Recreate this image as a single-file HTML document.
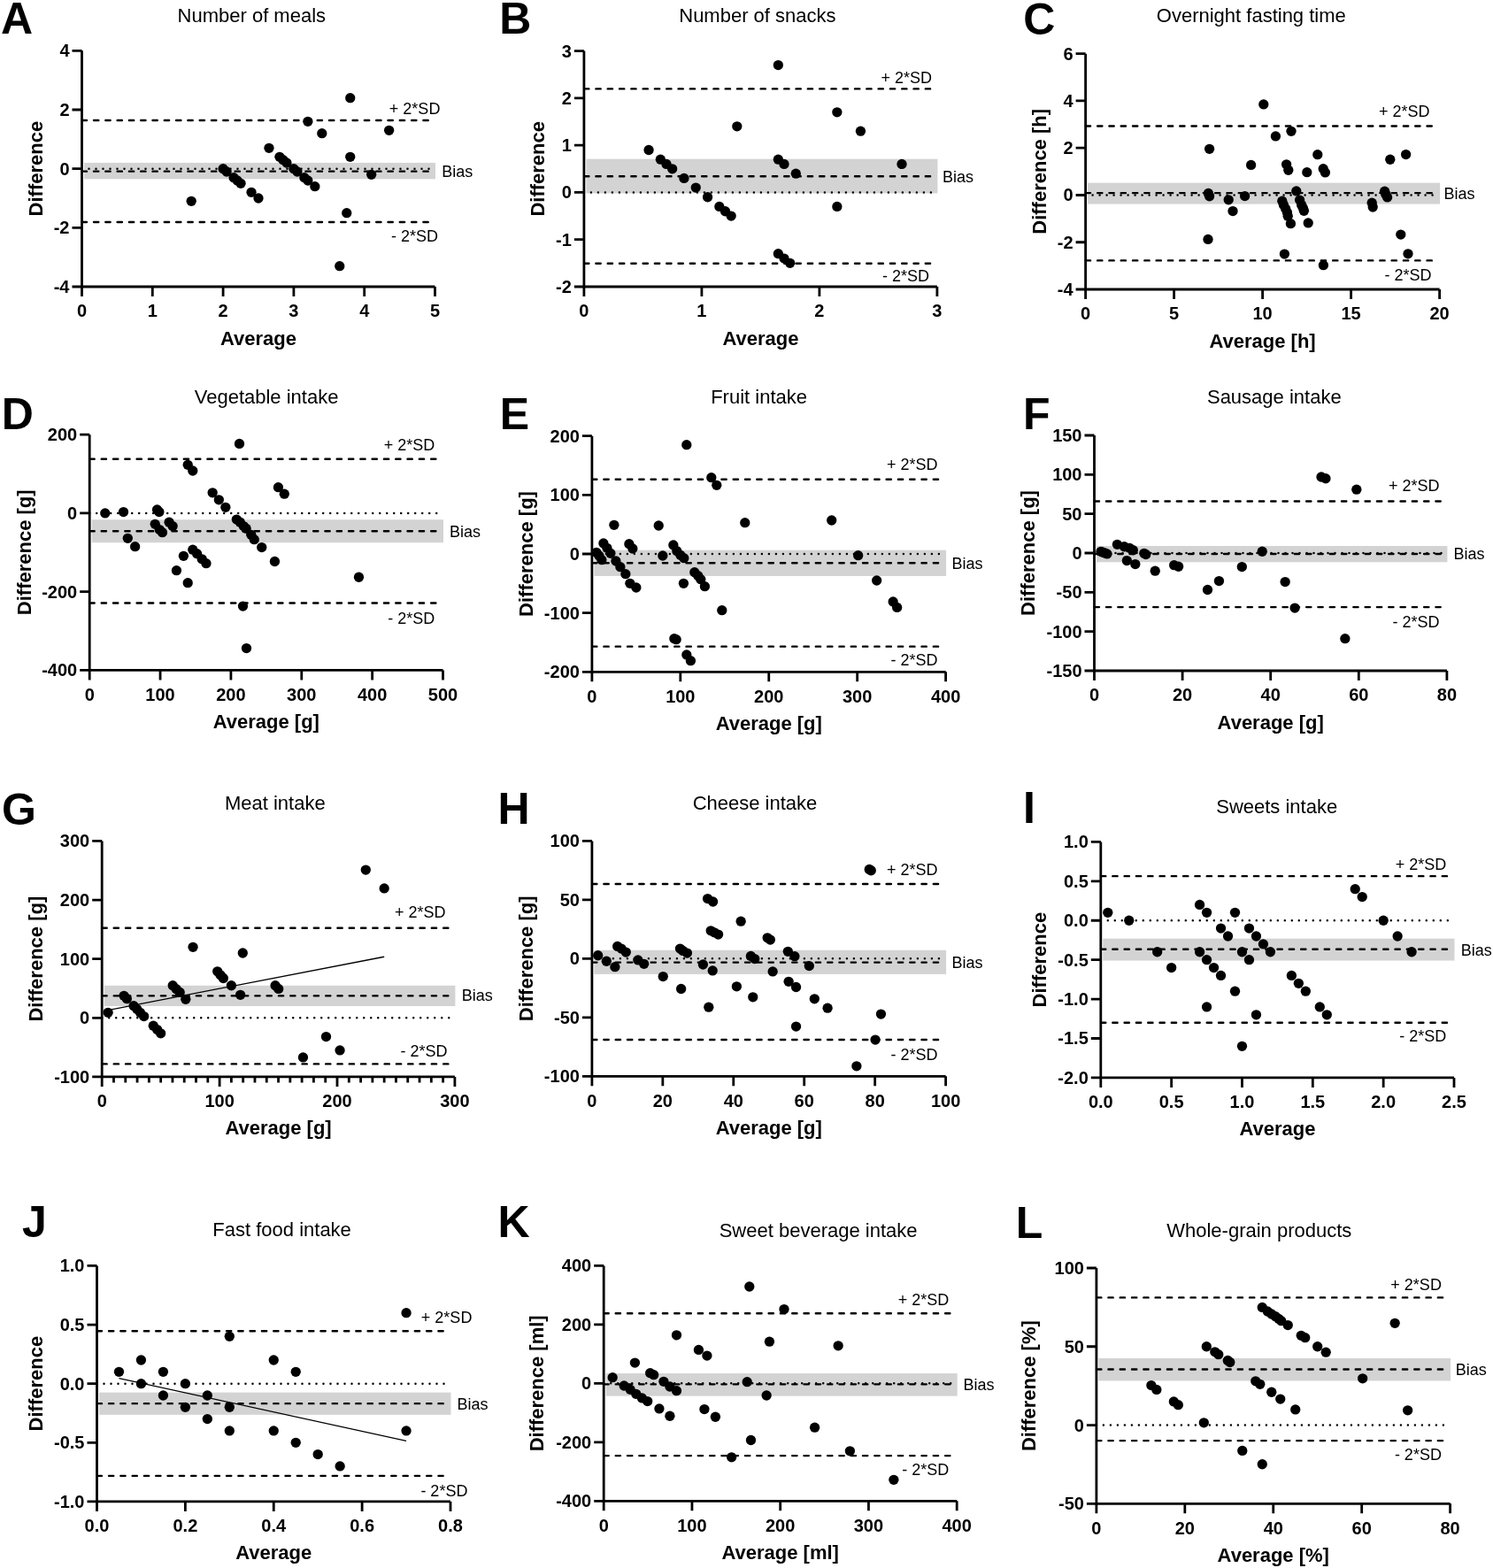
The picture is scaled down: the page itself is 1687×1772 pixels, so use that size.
<!DOCTYPE html>
<html><head><meta charset="utf-8"><title>Bland-Altman plots</title>
<style>
html,body{margin:0;padding:0;background:#fff;}
svg{display:block;}
text{font-family:"Liberation Sans", Arial, Helvetica, sans-serif;fill:#000;}
.tl{font-size:20px;font-weight:bold;}
.al{font-size:22px;font-weight:bold;}
.ll{font-size:18px;}
.ti{font-size:22px;}
.le{font-size:50px;font-weight:bold;}
.ax{fill:none;stroke:#000;stroke-width:2.8;}
.dash{stroke:#000;stroke-width:2.4;stroke-dasharray:5.3 8;stroke-linecap:round;stroke-dashoffset:-1.2;}
.dot{stroke:#000;stroke-width:2.5;stroke-dasharray:0 8;stroke-linecap:round;}
circle{fill:#000;}
</style></head>
<body>
<svg width="1687" height="1772" viewBox="0 0 1687 1772">
<rect width="1687" height="1772" fill="#fff"/>
<g><rect x="95" y="183.98" width="397" height="18.34" fill="#d3d3d3"/><line x1="92.5" y1="190.65" x2="485.5" y2="190.65" class="dot"/><line x1="91.5" y1="135.98" x2="485.5" y2="135.98" class="dash"/><line x1="91.5" y1="193.65" x2="485.5" y2="193.65" class="dash"/><line x1="91.5" y1="250.99" x2="485.5" y2="250.99" class="dash"/><circle cx="216.19" cy="227.32" r="5.65"/><circle cx="252.1" cy="190.65" r="5.65"/><circle cx="256.09" cy="193.98" r="5.65"/><circle cx="264.07" cy="200.65" r="5.65"/><circle cx="268.06" cy="203.99" r="5.65"/><circle cx="272.05" cy="207.32" r="5.65"/><circle cx="284.02" cy="217.32" r="5.65"/><circle cx="292" cy="223.99" r="5.65"/><circle cx="303.97" cy="167.31" r="5.65"/><circle cx="315.94" cy="177.31" r="5.65"/><circle cx="319.93" cy="180.65" r="5.65"/><circle cx="323.92" cy="183.98" r="5.65"/><circle cx="331.9" cy="190.65" r="5.65"/><circle cx="335.89" cy="193.98" r="5.65"/><circle cx="343.87" cy="200.65" r="5.65"/><circle cx="347.86" cy="203.99" r="5.65"/><circle cx="355.84" cy="210.65" r="5.65"/><circle cx="347.86" cy="137.31" r="5.65"/><circle cx="363.82" cy="150.65" r="5.65"/><circle cx="395.74" cy="110.64" r="5.65"/><circle cx="395.74" cy="177.31" r="5.65"/><circle cx="391.75" cy="240.66" r="5.65"/><circle cx="383.77" cy="300.66" r="5.65"/><circle cx="419.68" cy="197.32" r="5.65"/><circle cx="439.63" cy="147.31" r="5.65"/><path d="M92.5 57.3V324H491.5" class="ax"/><path d="M92.5 324H81.5M92.5 257.32H81.5M92.5 190.65H81.5M92.5 123.98H81.5M92.5 57.3H81.5M92.5 324V335M172.3 324V335M252.1 324V335M331.9 324V335M411.7 324V335M491.5 324V335" class="ax"/><text x="78.5" y="331" class="tl" text-anchor="end">-4</text><text x="78.5" y="264.32" class="tl" text-anchor="end">-2</text><text x="78.5" y="197.65" class="tl" text-anchor="end">0</text><text x="78.5" y="130.98" class="tl" text-anchor="end">2</text><text x="78.5" y="64.3" class="tl" text-anchor="end">4</text><text x="92.5" y="358.3" class="tl" text-anchor="middle">0</text><text x="172.3" y="358.3" class="tl" text-anchor="middle">1</text><text x="252.1" y="358.3" class="tl" text-anchor="middle">2</text><text x="331.9" y="358.3" class="tl" text-anchor="middle">3</text><text x="411.7" y="358.3" class="tl" text-anchor="middle">4</text><text x="491.5" y="358.3" class="tl" text-anchor="middle">5</text><text x="292" y="389.5" class="al" text-anchor="middle">Average</text><text transform="translate(48.2 190.65) rotate(-90)" class="al" text-anchor="middle">Difference</text><text x="497.4" y="129.3" class="ll" text-anchor="end">+ 2*SD</text><text x="499.3" y="200.4" class="ll">Bias</text><text x="495" y="272.5" class="ll" text-anchor="end">- 2*SD</text><text x="284.3" y="24.8" class="ti" text-anchor="middle">Number of meals</text><text x="0.9" y="38.2" class="le">A</text></g>
<g><rect x="662.4" y="179.66" width="397" height="38.79" fill="#d3d3d3"/><line x1="659.9" y1="217.44" x2="1052.9" y2="217.44" class="dot"/><line x1="658.9" y1="100.38" x2="1052.9" y2="100.38" class="dash"/><line x1="658.9" y1="199.22" x2="1052.9" y2="199.22" class="dash"/><line x1="658.9" y1="297.68" x2="1052.9" y2="297.68" class="dash"/><circle cx="733.05" cy="169.49" r="5.65"/><circle cx="746.35" cy="180.14" r="5.65"/><circle cx="753" cy="185.47" r="5.65"/><circle cx="759.65" cy="190.8" r="5.65"/><circle cx="772.95" cy="201.46" r="5.65"/><circle cx="786.25" cy="212.11" r="5.65"/><circle cx="799.55" cy="222.77" r="5.65"/><circle cx="812.85" cy="233.42" r="5.65"/><circle cx="819.5" cy="238.75" r="5.65"/><circle cx="826.15" cy="244.08" r="5.65"/><circle cx="832.8" cy="142.85" r="5.65"/><circle cx="879.35" cy="73.58" r="5.65"/><circle cx="879.35" cy="180.14" r="5.65"/><circle cx="886" cy="185.47" r="5.65"/><circle cx="899.3" cy="196.13" r="5.65"/><circle cx="879.35" cy="286.7" r="5.65"/><circle cx="886" cy="292.03" r="5.65"/><circle cx="892.65" cy="297.36" r="5.65"/><circle cx="945.85" cy="126.86" r="5.65"/><circle cx="945.85" cy="233.42" r="5.65"/><circle cx="972.45" cy="148.18" r="5.65"/><circle cx="1019" cy="185.47" r="5.65"/><path d="M659.9 57.6V324H1058.9" class="ax"/><path d="M659.9 324H648.9M659.9 270.72H648.9M659.9 217.44H648.9M659.9 164.16H648.9M659.9 110.88H648.9M659.9 57.6H648.9M659.9 324V335M792.9 324V335M925.9 324V335M1058.9 324V335" class="ax"/><text x="645.9" y="331" class="tl" text-anchor="end">-2</text><text x="645.9" y="277.72" class="tl" text-anchor="end">-1</text><text x="645.9" y="224.44" class="tl" text-anchor="end">0</text><text x="645.9" y="171.16" class="tl" text-anchor="end">1</text><text x="645.9" y="117.88" class="tl" text-anchor="end">2</text><text x="645.9" y="64.6" class="tl" text-anchor="end">3</text><text x="659.9" y="358.3" class="tl" text-anchor="middle">0</text><text x="792.9" y="358.3" class="tl" text-anchor="middle">1</text><text x="925.9" y="358.3" class="tl" text-anchor="middle">2</text><text x="1058.9" y="358.3" class="tl" text-anchor="middle">3</text><text x="859.4" y="389.5" class="al" text-anchor="middle">Average</text><text transform="translate(615.3 190.8) rotate(-90)" class="al" text-anchor="middle">Difference</text><text x="1053" y="93.5" class="ll" text-anchor="end">+ 2*SD</text><text x="1065" y="206" class="ll">Bias</text><text x="1050" y="318" class="ll" text-anchor="end">- 2*SD</text><text x="855.9" y="25" class="ti" text-anchor="middle">Number of snacks</text><text x="564.3" y="38" class="le">B</text></g>
<g><rect x="1229.1" y="206.63" width="398" height="23.97" fill="#d3d3d3"/><line x1="1226.6" y1="220.48" x2="1620.6" y2="220.48" class="dot"/><line x1="1225.6" y1="142.45" x2="1620.6" y2="142.45" class="dash"/><line x1="1225.6" y1="218.08" x2="1620.6" y2="218.08" class="dash"/><line x1="1225.6" y1="294.38" x2="1620.6" y2="294.38" class="dash"/><circle cx="1427.8" cy="117.95" r="5.65"/><circle cx="1441.4" cy="153.9" r="5.65"/><circle cx="1459" cy="148.31" r="5.65"/><circle cx="1366.6" cy="168.29" r="5.65"/><circle cx="1413.6" cy="186.39" r="5.65"/><circle cx="1453.6" cy="185.86" r="5.65"/><circle cx="1455.8" cy="192.25" r="5.65"/><circle cx="1476.8" cy="194.65" r="5.65"/><circle cx="1488.8" cy="174.68" r="5.65"/><circle cx="1495.2" cy="190.65" r="5.65"/><circle cx="1497.4" cy="194.92" r="5.65"/><circle cx="1570.8" cy="180.27" r="5.65"/><circle cx="1588.6" cy="174.54" r="5.65"/><circle cx="1365.4" cy="218.48" r="5.65"/><circle cx="1366.6" cy="221.81" r="5.65"/><circle cx="1388.2" cy="225.81" r="5.65"/><circle cx="1393" cy="238.59" r="5.65"/><circle cx="1406.6" cy="221.55" r="5.65"/><circle cx="1448.8" cy="227.14" r="5.65"/><circle cx="1450.4" cy="231.4" r="5.65"/><circle cx="1452.6" cy="235.66" r="5.65"/><circle cx="1454.4" cy="239.92" r="5.65"/><circle cx="1455.2" cy="244.18" r="5.65"/><circle cx="1458.4" cy="252.7" r="5.65"/><circle cx="1464.8" cy="215.95" r="5.65"/><circle cx="1468.6" cy="226.07" r="5.65"/><circle cx="1470.6" cy="231.4" r="5.65"/><circle cx="1472.4" cy="235.13" r="5.65"/><circle cx="1473.4" cy="238.32" r="5.65"/><circle cx="1478.2" cy="251.9" r="5.65"/><circle cx="1365" cy="270.41" r="5.65"/><circle cx="1451.4" cy="287.06" r="5.65"/><circle cx="1495.4" cy="299.7" r="5.65"/><circle cx="1582.8" cy="265.09" r="5.65"/><circle cx="1591" cy="286.79" r="5.65"/><circle cx="1550.2" cy="229.27" r="5.65"/><circle cx="1551.2" cy="234.06" r="5.65"/><circle cx="1564.6" cy="216.22" r="5.65"/><circle cx="1565.8" cy="219.41" r="5.65"/><circle cx="1567.6" cy="222.88" r="5.65"/><path d="M1226.6 60.7V327H1626.6" class="ax"/><path d="M1226.6 327H1215.6M1226.6 273.74H1215.6M1226.6 220.48H1215.6M1226.6 167.22H1215.6M1226.6 113.96H1215.6M1226.6 60.7H1215.6M1226.6 327V338M1326.6 327V338M1426.6 327V338M1526.6 327V338M1626.6 327V338" class="ax"/><text x="1212.6" y="334" class="tl" text-anchor="end">-4</text><text x="1212.6" y="280.74" class="tl" text-anchor="end">-2</text><text x="1212.6" y="227.48" class="tl" text-anchor="end">0</text><text x="1212.6" y="174.22" class="tl" text-anchor="end">2</text><text x="1212.6" y="120.96" class="tl" text-anchor="end">4</text><text x="1212.6" y="67.7" class="tl" text-anchor="end">6</text><text x="1226.6" y="361.3" class="tl" text-anchor="middle">0</text><text x="1326.6" y="361.3" class="tl" text-anchor="middle">5</text><text x="1426.6" y="361.3" class="tl" text-anchor="middle">10</text><text x="1526.6" y="361.3" class="tl" text-anchor="middle">15</text><text x="1626.6" y="361.3" class="tl" text-anchor="middle">20</text><text x="1426.6" y="392.5" class="al" text-anchor="middle">Average [h]</text><text transform="translate(1182 193.85) rotate(-90)" class="al" text-anchor="middle">Difference [h]</text><text x="1615.6" y="132.3" class="ll" text-anchor="end">+ 2*SD</text><text x="1631.6" y="225.3" class="ll">Bias</text><text x="1617.6" y="316.6" class="ll" text-anchor="end">- 2*SD</text><text x="1413.8" y="25" class="ti" text-anchor="middle">Overnight fasting time</text><text x="1156.3" y="39" class="le">C</text></g>
<g><rect x="103.7" y="587.25" width="397.3" height="25.95" fill="#d3d3d3"/><line x1="101.2" y1="579.93" x2="494.5" y2="579.93" class="dot"/><line x1="100.2" y1="518.71" x2="494.5" y2="518.71" class="dash"/><line x1="100.2" y1="600.21" x2="494.5" y2="600.21" class="dash"/><line x1="100.2" y1="681.53" x2="494.5" y2="681.53" class="dash"/><circle cx="118.77" cy="579.93" r="5.65"/><circle cx="139.53" cy="578.6" r="5.65"/><circle cx="144.32" cy="608.33" r="5.65"/><circle cx="152.63" cy="617.64" r="5.65"/><circle cx="177.55" cy="575.94" r="5.65"/><circle cx="179.86" cy="578.6" r="5.65"/><circle cx="175.23" cy="592.36" r="5.65"/><circle cx="180.26" cy="598.57" r="5.65"/><circle cx="183.46" cy="601.67" r="5.65"/><circle cx="191.12" cy="590.14" r="5.65"/><circle cx="195.12" cy="594.57" r="5.65"/><circle cx="207.41" cy="628.29" r="5.65"/><circle cx="199.43" cy="644.71" r="5.65"/><circle cx="212.21" cy="658.68" r="5.65"/><circle cx="212.21" cy="525.36" r="5.65"/><circle cx="217.8" cy="532.02" r="5.65"/><circle cx="217.8" cy="621.19" r="5.65"/><circle cx="222.59" cy="625.63" r="5.65"/><circle cx="228.18" cy="631.84" r="5.65"/><circle cx="232.97" cy="636.72" r="5.65"/><circle cx="240.16" cy="556.86" r="5.65"/><circle cx="247.34" cy="564.85" r="5.65"/><circle cx="254.85" cy="573.28" r="5.65"/><circle cx="270.5" cy="501.4" r="5.65"/><circle cx="267.31" cy="587.03" r="5.65"/><circle cx="271.3" cy="590.14" r="5.65"/><circle cx="275.29" cy="594.57" r="5.65"/><circle cx="278.09" cy="597.24" r="5.65"/><circle cx="283.76" cy="604.34" r="5.65"/><circle cx="287.27" cy="609.66" r="5.65"/><circle cx="295.74" cy="618.53" r="5.65"/><circle cx="310.43" cy="634.5" r="5.65"/><circle cx="314.43" cy="550.65" r="5.65"/><circle cx="321.29" cy="558.19" r="5.65"/><circle cx="274.5" cy="685.08" r="5.65"/><circle cx="278.49" cy="732.55" r="5.65"/><circle cx="405.47" cy="652.25" r="5.65"/><path d="M101.2 491.2V757.4H500.5" class="ax"/><path d="M101.2 757.4H90.2M101.2 668.67H90.2M101.2 579.93H90.2M101.2 491.2H90.2M101.2 757.4V768.4M181.06 757.4V768.4M260.92 757.4V768.4M340.78 757.4V768.4M420.64 757.4V768.4M500.5 757.4V768.4" class="ax"/><text x="87.2" y="764.4" class="tl" text-anchor="end">-400</text><text x="87.2" y="675.67" class="tl" text-anchor="end">-200</text><text x="87.2" y="586.93" class="tl" text-anchor="end">0</text><text x="87.2" y="498.2" class="tl" text-anchor="end">200</text><text x="101.2" y="791.7" class="tl" text-anchor="middle">0</text><text x="181.06" y="791.7" class="tl" text-anchor="middle">100</text><text x="260.92" y="791.7" class="tl" text-anchor="middle">200</text><text x="340.78" y="791.7" class="tl" text-anchor="middle">300</text><text x="420.64" y="791.7" class="tl" text-anchor="middle">400</text><text x="500.5" y="791.7" class="tl" text-anchor="middle">500</text><text x="300.85" y="822.9" class="al" text-anchor="middle">Average [g]</text><text transform="translate(34.7 624.3) rotate(-90)" class="al" text-anchor="middle">Difference [g]</text><text x="491.3" y="509.3" class="ll" text-anchor="end">+ 2*SD</text><text x="508" y="606.6" class="ll">Bias</text><text x="491.3" y="704.5" class="ll" text-anchor="end">- 2*SD</text><text x="301.1" y="455.9" class="ti" text-anchor="middle">Vegetable intake</text><text x="1.8" y="485" class="le">D</text></g>
<g><rect x="671.4" y="621.67" width="397.7" height="29.26" fill="#d3d3d3"/><line x1="668.9" y1="626" x2="1062.6" y2="626" class="dot"/><line x1="667.9" y1="541.69" x2="1062.6" y2="541.69" class="dash"/><line x1="667.9" y1="636.26" x2="1062.6" y2="636.26" class="dash"/><line x1="667.9" y1="730.64" x2="1062.6" y2="730.64" class="dash"/><circle cx="673.9" cy="624.33" r="5.65"/><circle cx="676.89" cy="628" r="5.65"/><circle cx="679.89" cy="632.66" r="5.65"/><circle cx="681.89" cy="614" r="5.65"/><circle cx="685.89" cy="619.33" r="5.65"/><circle cx="689.88" cy="625.33" r="5.65"/><circle cx="693.88" cy="593.34" r="5.65"/><circle cx="695.88" cy="634" r="5.65"/><circle cx="700.88" cy="640.66" r="5.65"/><circle cx="706.87" cy="648.66" r="5.65"/><circle cx="711.87" cy="659.32" r="5.65"/><circle cx="718.86" cy="663.99" r="5.65"/><circle cx="710.87" cy="614.67" r="5.65"/><circle cx="714.87" cy="620" r="5.65"/><circle cx="744.24" cy="594.01" r="5.65"/><circle cx="748.84" cy="628" r="5.65"/><circle cx="760.83" cy="616" r="5.65"/><circle cx="764.83" cy="622.67" r="5.65"/><circle cx="768.82" cy="627.33" r="5.65"/><circle cx="772.82" cy="630.67" r="5.65"/><circle cx="775.82" cy="502.7" r="5.65"/><circle cx="803.8" cy="539.69" r="5.65"/><circle cx="809.79" cy="548.29" r="5.65"/><circle cx="841.77" cy="590.68" r="5.65"/><circle cx="939.7" cy="588.01" r="5.65"/><circle cx="969.67" cy="627.67" r="5.65"/><circle cx="990.66" cy="655.99" r="5.65"/><circle cx="1009.14" cy="679.99" r="5.65"/><circle cx="1013.64" cy="686.45" r="5.65"/><circle cx="815.79" cy="689.72" r="5.65"/><circle cx="761.83" cy="721.64" r="5.65"/><circle cx="764.13" cy="722.64" r="5.65"/><circle cx="775.82" cy="739.97" r="5.65"/><circle cx="780.42" cy="746.64" r="5.65"/><circle cx="772.42" cy="659.32" r="5.65"/><circle cx="784.81" cy="646.66" r="5.65"/><circle cx="788.81" cy="650.66" r="5.65"/><circle cx="791.81" cy="654.66" r="5.65"/><circle cx="796.4" cy="662.66" r="5.65"/><path d="M668.9 492.7V759.3H1068.6" class="ax"/><path d="M668.9 759.3H657.9M668.9 692.65H657.9M668.9 626H657.9M668.9 559.35H657.9M668.9 492.7H657.9M668.9 759.3V770.3M768.82 759.3V770.3M868.75 759.3V770.3M968.67 759.3V770.3M1068.6 759.3V770.3" class="ax"/><text x="654.9" y="766.3" class="tl" text-anchor="end">-200</text><text x="654.9" y="699.65" class="tl" text-anchor="end">-100</text><text x="654.9" y="633" class="tl" text-anchor="end">0</text><text x="654.9" y="566.35" class="tl" text-anchor="end">100</text><text x="654.9" y="499.7" class="tl" text-anchor="end">200</text><text x="668.9" y="793.6" class="tl" text-anchor="middle">0</text><text x="768.82" y="793.6" class="tl" text-anchor="middle">100</text><text x="868.75" y="793.6" class="tl" text-anchor="middle">200</text><text x="968.67" y="793.6" class="tl" text-anchor="middle">300</text><text x="1068.6" y="793.6" class="tl" text-anchor="middle">400</text><text x="868.75" y="824.8" class="al" text-anchor="middle">Average [g]</text><text transform="translate(602.3 626) rotate(-90)" class="al" text-anchor="middle">Difference [g]</text><text x="1059.6" y="530.9" class="ll" text-anchor="end">+ 2*SD</text><text x="1075.5" y="643.1" class="ll">Bias</text><text x="1059.6" y="751.6" class="ll" text-anchor="end">- 2*SD</text><text x="857.6" y="456.2" class="ti" text-anchor="middle">Fruit intake</text><text x="564.8" y="484.6" class="le">E</text></g>
<g><rect x="1239" y="617.02" width="396.4" height="18.27" fill="#d3d3d3"/><line x1="1236.5" y1="625" x2="1628.9" y2="625" class="dot"/><line x1="1235.5" y1="566.57" x2="1628.9" y2="566.57" class="dash"/><line x1="1235.5" y1="625.98" x2="1628.9" y2="625.98" class="dash"/><line x1="1235.5" y1="686.09" x2="1628.9" y2="686.09" class="dash"/><circle cx="1492.97" cy="538.99" r="5.65"/><circle cx="1497.95" cy="540.77" r="5.65"/><circle cx="1532.81" cy="553.18" r="5.65"/><circle cx="1426.24" cy="623.23" r="5.65"/><circle cx="1403.33" cy="640.61" r="5.65"/><circle cx="1452.13" cy="657.54" r="5.65"/><circle cx="1463.09" cy="687.07" r="5.65"/><circle cx="1519.86" cy="721.65" r="5.65"/><circle cx="1364.49" cy="666.5" r="5.65"/><circle cx="1377.43" cy="656.57" r="5.65"/><circle cx="1305.22" cy="645.22" r="5.65"/><circle cx="1326.64" cy="638.65" r="5.65"/><circle cx="1331.62" cy="640.25" r="5.65"/><circle cx="1273.35" cy="633.6" r="5.65"/><circle cx="1282.81" cy="637.59" r="5.65"/><circle cx="1292.77" cy="625.35" r="5.65"/><circle cx="1294.77" cy="626.6" r="5.65"/><circle cx="1262.4" cy="615.34" r="5.65"/><circle cx="1270.36" cy="617.73" r="5.65"/><circle cx="1276.34" cy="619.33" r="5.65"/><circle cx="1280.32" cy="621.72" r="5.65"/><circle cx="1243.97" cy="623.32" r="5.65"/><circle cx="1246.21" cy="624.2" r="5.65"/><circle cx="1248.45" cy="625" r="5.65"/><circle cx="1250.94" cy="625.89" r="5.65"/><path d="M1236.5 492V758H1634.9" class="ax"/><path d="M1236.5 758H1225.5M1236.5 713.67H1225.5M1236.5 669.33H1225.5M1236.5 625H1225.5M1236.5 580.67H1225.5M1236.5 536.33H1225.5M1236.5 492H1225.5M1236.5 758V769M1336.1 758V769M1435.7 758V769M1535.3 758V769M1634.9 758V769" class="ax"/><text x="1222.5" y="765" class="tl" text-anchor="end">-150</text><text x="1222.5" y="720.67" class="tl" text-anchor="end">-100</text><text x="1222.5" y="676.33" class="tl" text-anchor="end">-50</text><text x="1222.5" y="632" class="tl" text-anchor="end">0</text><text x="1222.5" y="587.67" class="tl" text-anchor="end">50</text><text x="1222.5" y="543.33" class="tl" text-anchor="end">100</text><text x="1222.5" y="499" class="tl" text-anchor="end">150</text><text x="1236.5" y="792.3" class="tl" text-anchor="middle">0</text><text x="1336.1" y="792.3" class="tl" text-anchor="middle">20</text><text x="1435.7" y="792.3" class="tl" text-anchor="middle">40</text><text x="1535.3" y="792.3" class="tl" text-anchor="middle">60</text><text x="1634.9" y="792.3" class="tl" text-anchor="middle">80</text><text x="1435.7" y="823.5" class="al" text-anchor="middle">Average [g]</text><text transform="translate(1168.7 625) rotate(-90)" class="al" text-anchor="middle">Difference [g]</text><text x="1626.6" y="555.4" class="ll" text-anchor="end">+ 2*SD</text><text x="1642.5" y="632.1" class="ll">Bias</text><text x="1626.6" y="708.5" class="ll" text-anchor="end">- 2*SD</text><text x="1439.8" y="456.2" class="ti" text-anchor="middle">Sausage intake</text><text x="1156" y="484.6" class="le">F</text></g>
<g><rect x="117.7" y="1113.76" width="396.7" height="23.25" fill="#d3d3d3"/><line x1="115.2" y1="1150.28" x2="507.9" y2="1150.28" class="dot"/><line x1="114.2" y1="1048.74" x2="507.9" y2="1048.74" class="dash"/><line x1="114.2" y1="1125.36" x2="507.9" y2="1125.36" class="dash"/><line x1="114.2" y1="1202.38" x2="507.9" y2="1202.38" class="dash"/><line x1="122.11" y1="1141.61" x2="434.16" y2="1081.25" stroke="#000" stroke-width="1.3"/><circle cx="122.11" cy="1144.28" r="5.65"/><circle cx="140.05" cy="1125.36" r="5.65"/><circle cx="143.37" cy="1128.69" r="5.65"/><circle cx="151.08" cy="1136.68" r="5.65"/><circle cx="154.67" cy="1140.28" r="5.65"/><circle cx="158.39" cy="1144.28" r="5.65"/><circle cx="162.65" cy="1148.61" r="5.65"/><circle cx="173.28" cy="1159.2" r="5.65"/><circle cx="177.66" cy="1163.6" r="5.65"/><circle cx="181.65" cy="1167.86" r="5.65"/><circle cx="195.21" cy="1113.76" r="5.65"/><circle cx="199.19" cy="1117.76" r="5.65"/><circle cx="203.18" cy="1121.43" r="5.65"/><circle cx="209.82" cy="1129.35" r="5.65"/><circle cx="218.06" cy="1070.33" r="5.65"/><circle cx="245.71" cy="1097.84" r="5.65"/><circle cx="249.03" cy="1101.84" r="5.65"/><circle cx="252.35" cy="1105.5" r="5.65"/><circle cx="261.39" cy="1113.76" r="5.65"/><circle cx="271.62" cy="1124.36" r="5.65"/><circle cx="274.28" cy="1076.99" r="5.65"/><circle cx="311.09" cy="1113.76" r="5.65"/><circle cx="314.68" cy="1117.43" r="5.65"/><circle cx="342.46" cy="1194.91" r="5.65"/><circle cx="368.51" cy="1171.6" r="5.65"/><circle cx="384.06" cy="1186.92" r="5.65"/><circle cx="413.29" cy="983.05" r="5.65"/><circle cx="434.16" cy="1003.9" r="5.65"/><path d="M115.2 950.4V1216.9H513.9" class="ax"/><path d="M115.2 1216.9H104.2M115.2 1150.28H104.2M115.2 1083.65H104.2M115.2 1017.03H104.2M115.2 950.4H104.2M115.2 1216.9V1227.9M248.1 1216.9V1227.9M381 1216.9V1227.9M513.9 1216.9V1227.9M128.49 1216.9V1223.4M141.78 1216.9V1223.4M155.07 1216.9V1223.4M168.36 1216.9V1223.4M181.65 1216.9V1223.4M194.94 1216.9V1223.4M208.23 1216.9V1223.4M221.52 1216.9V1223.4M234.81 1216.9V1223.4M261.39 1216.9V1223.4M274.68 1216.9V1223.4M287.97 1216.9V1223.4M301.26 1216.9V1223.4M314.55 1216.9V1223.4M327.84 1216.9V1223.4M341.13 1216.9V1223.4M354.42 1216.9V1223.4M367.71 1216.9V1223.4M394.29 1216.9V1223.4M407.58 1216.9V1223.4M420.87 1216.9V1223.4M434.16 1216.9V1223.4M447.45 1216.9V1223.4M460.74 1216.9V1223.4M474.03 1216.9V1223.4M487.32 1216.9V1223.4M500.61 1216.9V1223.4" class="ax"/><text x="101.2" y="1223.9" class="tl" text-anchor="end">-100</text><text x="101.2" y="1157.28" class="tl" text-anchor="end">0</text><text x="101.2" y="1090.65" class="tl" text-anchor="end">100</text><text x="101.2" y="1024.03" class="tl" text-anchor="end">200</text><text x="101.2" y="957.4" class="tl" text-anchor="end">300</text><text x="115.2" y="1251.2" class="tl" text-anchor="middle">0</text><text x="248.1" y="1251.2" class="tl" text-anchor="middle">100</text><text x="381" y="1251.2" class="tl" text-anchor="middle">200</text><text x="513.9" y="1251.2" class="tl" text-anchor="middle">300</text><text x="314.55" y="1282.4" class="al" text-anchor="middle">Average [g]</text><text transform="translate(47.6 1083.65) rotate(-90)" class="al" text-anchor="middle">Difference [g]</text><text x="503.6" y="1036.7" class="ll" text-anchor="end">+ 2*SD</text><text x="521.8" y="1130.9" class="ll">Bias</text><text x="505.6" y="1194" class="ll" text-anchor="end">- 2*SD</text><text x="310.8" y="914.9" class="ti" text-anchor="middle">Meat intake</text><text x="2" y="932" class="le">G</text></g>
<g><rect x="671.4" y="1073.78" width="397.7" height="27.12" fill="#d3d3d3"/><line x1="668.9" y1="1083.35" x2="1062.6" y2="1083.35" class="dot"/><line x1="667.9" y1="999.06" x2="1062.6" y2="999.06" class="dash"/><line x1="667.9" y1="1087.6" x2="1062.6" y2="1087.6" class="dash"/><line x1="667.9" y1="1174.95" x2="1062.6" y2="1174.95" class="dash"/><circle cx="675.69" cy="1079.76" r="5.65"/><circle cx="685.29" cy="1086.27" r="5.65"/><circle cx="694.88" cy="1092.66" r="5.65"/><circle cx="697.68" cy="1069.39" r="5.65"/><circle cx="702.08" cy="1072.05" r="5.65"/><circle cx="707.27" cy="1076.04" r="5.65"/><circle cx="720.86" cy="1084.95" r="5.65"/><circle cx="727.66" cy="1089.33" r="5.65"/><circle cx="749.24" cy="1103.56" r="5.65"/><circle cx="768.43" cy="1072.05" r="5.65"/><circle cx="771.62" cy="1074.44" r="5.65"/><circle cx="776.42" cy="1077.1" r="5.65"/><circle cx="769.62" cy="1117.52" r="5.65"/><circle cx="794.41" cy="1090" r="5.65"/><circle cx="799.6" cy="1015.55" r="5.65"/><circle cx="805.6" cy="1019" r="5.65"/><circle cx="803.2" cy="1051.84" r="5.65"/><circle cx="807.2" cy="1053.84" r="5.65"/><circle cx="811.59" cy="1056.1" r="5.65"/><circle cx="805.2" cy="1096.91" r="5.65"/><circle cx="800.8" cy="1138.13" r="5.65"/><circle cx="837.17" cy="1041.2" r="5.65"/><circle cx="832.38" cy="1114.86" r="5.65"/><circle cx="848.37" cy="1080.43" r="5.65"/><circle cx="852.76" cy="1083.62" r="5.65"/><circle cx="850.76" cy="1126.82" r="5.65"/><circle cx="867.15" cy="1059.82" r="5.65"/><circle cx="870.35" cy="1062.08" r="5.65"/><circle cx="873.15" cy="1097.97" r="5.65"/><circle cx="890.33" cy="1075.37" r="5.65"/><circle cx="897.93" cy="1080.69" r="5.65"/><circle cx="891.13" cy="1109.28" r="5.65"/><circle cx="899.53" cy="1115.52" r="5.65"/><circle cx="899.53" cy="1160.06" r="5.65"/><circle cx="914.32" cy="1091.59" r="5.65"/><circle cx="920.31" cy="1128.82" r="5.65"/><circle cx="935.1" cy="1139.19" r="5.65"/><circle cx="967.88" cy="1204.87" r="5.65"/><circle cx="989.06" cy="1175.09" r="5.65"/><circle cx="995.45" cy="1146.1" r="5.65"/><circle cx="982.26" cy="982.44" r="5.65"/><circle cx="984.26" cy="983.77" r="5.65"/><path d="M668.9 950.4V1216.3H1068.6" class="ax"/><path d="M668.9 1216.3H657.9M668.9 1149.83H657.9M668.9 1083.35H657.9M668.9 1016.88H657.9M668.9 950.4H657.9M668.9 1216.3V1227.3M748.84 1216.3V1227.3M828.78 1216.3V1227.3M908.72 1216.3V1227.3M988.66 1216.3V1227.3M1068.6 1216.3V1227.3" class="ax"/><text x="654.9" y="1223.3" class="tl" text-anchor="end">-100</text><text x="654.9" y="1156.83" class="tl" text-anchor="end">-50</text><text x="654.9" y="1090.35" class="tl" text-anchor="end">0</text><text x="654.9" y="1023.88" class="tl" text-anchor="end">50</text><text x="654.9" y="957.4" class="tl" text-anchor="end">100</text><text x="668.9" y="1250.6" class="tl" text-anchor="middle">0</text><text x="748.84" y="1250.6" class="tl" text-anchor="middle">20</text><text x="828.78" y="1250.6" class="tl" text-anchor="middle">40</text><text x="908.72" y="1250.6" class="tl" text-anchor="middle">60</text><text x="988.66" y="1250.6" class="tl" text-anchor="middle">80</text><text x="1068.6" y="1250.6" class="tl" text-anchor="middle">100</text><text x="868.75" y="1281.8" class="al" text-anchor="middle">Average [g]</text><text transform="translate(601.7 1083.35) rotate(-90)" class="al" text-anchor="middle">Difference [g]</text><text x="1059.6" y="989.2" class="ll" text-anchor="end">+ 2*SD</text><text x="1075.5" y="1093.8" class="ll">Bias</text><text x="1059.6" y="1197.7" class="ll" text-anchor="end">- 2*SD</text><text x="853" y="914.8" class="ti" text-anchor="middle">Cheese intake</text><text x="562.5" y="931.3" class="le">H</text></g>
<g><rect x="1246.3" y="1060.67" width="397.2" height="24.87" fill="#d3d3d3"/><line x1="1243.8" y1="1040.23" x2="1637" y2="1040.23" class="dot"/><line x1="1242.8" y1="990.13" x2="1637" y2="990.13" class="dash"/><line x1="1242.8" y1="1072.75" x2="1637" y2="1072.75" class="dash"/><line x1="1242.8" y1="1155.72" x2="1637" y2="1155.72" class="dash"/><circle cx="1251.78" cy="1031.35" r="5.65"/><circle cx="1275.74" cy="1040.23" r="5.65"/><circle cx="1307.67" cy="1075.77" r="5.65"/><circle cx="1323.64" cy="1093.53" r="5.65"/><circle cx="1355.58" cy="1022.47" r="5.65"/><circle cx="1363.56" cy="1031.35" r="5.65"/><circle cx="1379.53" cy="1049.12" r="5.65"/><circle cx="1387.51" cy="1058" r="5.65"/><circle cx="1395.5" cy="1031.35" r="5.65"/><circle cx="1411.46" cy="1049.12" r="5.65"/><circle cx="1419.45" cy="1058" r="5.65"/><circle cx="1427.43" cy="1066.88" r="5.65"/><circle cx="1435.42" cy="1075.77" r="5.65"/><circle cx="1355.58" cy="1075.77" r="5.65"/><circle cx="1363.56" cy="1084.65" r="5.65"/><circle cx="1371.54" cy="1093.53" r="5.65"/><circle cx="1379.53" cy="1102.42" r="5.65"/><circle cx="1395.5" cy="1120.18" r="5.65"/><circle cx="1363.56" cy="1137.95" r="5.65"/><circle cx="1403.48" cy="1075.77" r="5.65"/><circle cx="1411.46" cy="1084.65" r="5.65"/><circle cx="1419.45" cy="1146.83" r="5.65"/><circle cx="1403.48" cy="1182.37" r="5.65"/><circle cx="1459.37" cy="1102.42" r="5.65"/><circle cx="1467.35" cy="1111.3" r="5.65"/><circle cx="1475.34" cy="1120.18" r="5.65"/><circle cx="1491.3" cy="1137.95" r="5.65"/><circle cx="1499.29" cy="1146.83" r="5.65"/><circle cx="1531.22" cy="1004.7" r="5.65"/><circle cx="1539.21" cy="1013.58" r="5.65"/><circle cx="1563.16" cy="1040.23" r="5.65"/><circle cx="1579.13" cy="1058" r="5.65"/><circle cx="1595.1" cy="1075.77" r="5.65"/><path d="M1243.8 951.4V1217.9H1643" class="ax"/><path d="M1243.8 1217.9H1232.8M1243.8 1173.48H1232.8M1243.8 1129.07H1232.8M1243.8 1084.65H1232.8M1243.8 1040.23H1232.8M1243.8 995.82H1232.8M1243.8 951.4H1232.8M1243.8 1217.9V1228.9M1323.64 1217.9V1228.9M1403.48 1217.9V1228.9M1483.32 1217.9V1228.9M1563.16 1217.9V1228.9M1643 1217.9V1228.9" class="ax"/><text x="1229.8" y="1224.9" class="tl" text-anchor="end">-2.0</text><text x="1229.8" y="1180.48" class="tl" text-anchor="end">-1.5</text><text x="1229.8" y="1136.07" class="tl" text-anchor="end">-1.0</text><text x="1229.8" y="1091.65" class="tl" text-anchor="end">-0.5</text><text x="1229.8" y="1047.23" class="tl" text-anchor="end">0.0</text><text x="1229.8" y="1002.82" class="tl" text-anchor="end">0.5</text><text x="1229.8" y="958.4" class="tl" text-anchor="end">1.0</text><text x="1243.8" y="1252.2" class="tl" text-anchor="middle">0.0</text><text x="1323.64" y="1252.2" class="tl" text-anchor="middle">0.5</text><text x="1403.48" y="1252.2" class="tl" text-anchor="middle">1.0</text><text x="1483.32" y="1252.2" class="tl" text-anchor="middle">1.5</text><text x="1563.16" y="1252.2" class="tl" text-anchor="middle">2.0</text><text x="1643" y="1252.2" class="tl" text-anchor="middle">2.5</text><text x="1443.4" y="1283.4" class="al" text-anchor="middle">Average</text><text transform="translate(1182.4 1084.65) rotate(-90)" class="al" text-anchor="middle">Difference</text><text x="1634.2" y="982.6" class="ll" text-anchor="end">+ 2*SD</text><text x="1650.8" y="1079.8" class="ll">Bias</text><text x="1634.2" y="1176.8" class="ll" text-anchor="end">- 2*SD</text><text x="1442.7" y="918.8" class="ti" text-anchor="middle">Sweets intake</text><text x="1156" y="930" class="le">I</text></g>
<g><rect x="112" y="1573.64" width="397.5" height="25.18" fill="#d3d3d3"/><line x1="109.5" y1="1563.65" x2="503" y2="1563.65" class="dot"/><line x1="108.5" y1="1504.22" x2="503" y2="1504.22" class="dash"/><line x1="108.5" y1="1586.17" x2="503" y2="1586.17" class="dash"/><line x1="108.5" y1="1667.85" x2="503" y2="1667.85" class="dash"/><line x1="134.47" y1="1557.65" x2="459.06" y2="1628.41" stroke="#000" stroke-width="1.3"/><circle cx="134.47" cy="1550.33" r="5.65"/><circle cx="159.44" cy="1537" r="5.65"/><circle cx="159.44" cy="1563.65" r="5.65"/><circle cx="184.41" cy="1550.33" r="5.65"/><circle cx="184.41" cy="1576.98" r="5.65"/><circle cx="209.38" cy="1563.65" r="5.65"/><circle cx="209.38" cy="1590.3" r="5.65"/><circle cx="234.34" cy="1576.98" r="5.65"/><circle cx="234.34" cy="1603.62" r="5.65"/><circle cx="259.31" cy="1510.35" r="5.65"/><circle cx="259.31" cy="1590.3" r="5.65"/><circle cx="259.31" cy="1616.95" r="5.65"/><circle cx="309.25" cy="1537" r="5.65"/><circle cx="309.25" cy="1616.95" r="5.65"/><circle cx="334.22" cy="1550.33" r="5.65"/><circle cx="334.22" cy="1630.28" r="5.65"/><circle cx="359.19" cy="1643.6" r="5.65"/><circle cx="384.16" cy="1656.93" r="5.65"/><circle cx="459.06" cy="1483.7" r="5.65"/><circle cx="459.06" cy="1616.95" r="5.65"/><path d="M109.5 1430.4V1696.9H509" class="ax"/><path d="M109.5 1696.9H98.5M109.5 1630.28H98.5M109.5 1563.65H98.5M109.5 1497.03H98.5M109.5 1430.4H98.5M109.5 1696.9V1707.9M209.38 1696.9V1707.9M309.25 1696.9V1707.9M409.12 1696.9V1707.9M509 1696.9V1707.9" class="ax"/><text x="95.5" y="1703.9" class="tl" text-anchor="end">-1.0</text><text x="95.5" y="1637.28" class="tl" text-anchor="end">-0.5</text><text x="95.5" y="1570.65" class="tl" text-anchor="end">0.0</text><text x="95.5" y="1504.03" class="tl" text-anchor="end">0.5</text><text x="95.5" y="1437.4" class="tl" text-anchor="end">1.0</text><text x="109.5" y="1731.2" class="tl" text-anchor="middle">0.0</text><text x="209.38" y="1731.2" class="tl" text-anchor="middle">0.2</text><text x="309.25" y="1731.2" class="tl" text-anchor="middle">0.4</text><text x="409.12" y="1731.2" class="tl" text-anchor="middle">0.6</text><text x="509" y="1731.2" class="tl" text-anchor="middle">0.8</text><text x="309.25" y="1762.4" class="al" text-anchor="middle">Average</text><text transform="translate(48.2 1563.65) rotate(-90)" class="al" text-anchor="middle">Difference</text><text x="533.4" y="1494.6" class="ll" text-anchor="end">+ 2*SD</text><text x="516.6" y="1593" class="ll">Bias</text><text x="528.4" y="1691.2" class="ll" text-anchor="end">- 2*SD</text><text x="318.6" y="1397.3" class="ti" text-anchor="middle">Fast food intake</text><text x="24.9" y="1397.7" class="le">J</text></g>
<g><rect x="684.7" y="1552.05" width="397" height="25.59" fill="#d3d3d3"/><line x1="682.2" y1="1563.35" x2="1075.2" y2="1563.35" class="dot"/><line x1="681.2" y1="1484.24" x2="1075.2" y2="1484.24" class="dash"/><line x1="681.2" y1="1564.35" x2="1075.2" y2="1564.35" class="dash"/><line x1="681.2" y1="1645.11" x2="1075.2" y2="1645.11" class="dash"/><circle cx="692.18" cy="1556.7" r="5.65"/><circle cx="705.14" cy="1566.01" r="5.65"/><circle cx="712.12" cy="1570.33" r="5.65"/><circle cx="718.71" cy="1575.32" r="5.65"/><circle cx="725.39" cy="1579.97" r="5.65"/><circle cx="731.68" cy="1583.62" r="5.65"/><circle cx="717.41" cy="1540.08" r="5.65"/><circle cx="734.67" cy="1551.72" r="5.65"/><circle cx="738.66" cy="1553.71" r="5.65"/><circle cx="749.93" cy="1561.36" r="5.65"/><circle cx="756.91" cy="1567.01" r="5.65"/><circle cx="764.49" cy="1571.66" r="5.65"/><circle cx="744.94" cy="1591.93" r="5.65"/><circle cx="756.91" cy="1600.24" r="5.65"/><circle cx="764.49" cy="1508.84" r="5.65"/><circle cx="789.43" cy="1525.46" r="5.65"/><circle cx="798.91" cy="1532.11" r="5.65"/><circle cx="795.92" cy="1592.6" r="5.65"/><circle cx="808.38" cy="1601.24" r="5.65"/><circle cx="826.64" cy="1646.78" r="5.65"/><circle cx="844.19" cy="1561.69" r="5.65"/><circle cx="846.79" cy="1454" r="5.65"/><circle cx="848.48" cy="1627.5" r="5.65"/><circle cx="866.14" cy="1576.98" r="5.65"/><circle cx="869.43" cy="1516.15" r="5.65"/><circle cx="885.99" cy="1479.59" r="5.65"/><circle cx="920.6" cy="1613.21" r="5.65"/><circle cx="947.14" cy="1520.81" r="5.65"/><circle cx="960.4" cy="1639.8" r="5.65"/><circle cx="1009.88" cy="1672.37" r="5.65"/><path d="M682.2 1430.4V1696.3H1081.2" class="ax"/><path d="M682.2 1696.3H671.2M682.2 1629.83H671.2M682.2 1563.35H671.2M682.2 1496.88H671.2M682.2 1430.4H671.2M682.2 1696.3V1707.3M781.95 1696.3V1707.3M881.7 1696.3V1707.3M981.45 1696.3V1707.3M1081.2 1696.3V1707.3" class="ax"/><text x="668.2" y="1703.3" class="tl" text-anchor="end">-400</text><text x="668.2" y="1636.83" class="tl" text-anchor="end">-200</text><text x="668.2" y="1570.35" class="tl" text-anchor="end">0</text><text x="668.2" y="1503.88" class="tl" text-anchor="end">200</text><text x="668.2" y="1437.4" class="tl" text-anchor="end">400</text><text x="682.2" y="1730.6" class="tl" text-anchor="middle">0</text><text x="781.95" y="1730.6" class="tl" text-anchor="middle">100</text><text x="881.7" y="1730.6" class="tl" text-anchor="middle">200</text><text x="981.45" y="1730.6" class="tl" text-anchor="middle">300</text><text x="1081.2" y="1730.6" class="tl" text-anchor="middle">400</text><text x="881.7" y="1761.8" class="al" text-anchor="middle">Average [ml]</text><text transform="translate(614.3 1563.35) rotate(-90)" class="al" text-anchor="middle">Difference [ml]</text><text x="1072.2" y="1475.2" class="ll" text-anchor="end">+ 2*SD</text><text x="1088.5" y="1570.5" class="ll">Bias</text><text x="1072.2" y="1667.4" class="ll" text-anchor="end">- 2*SD</text><text x="924.6" y="1397.5" class="ti" text-anchor="middle">Sweet beverage intake</text><text x="562.5" y="1398" class="le">K</text></g>
<g><rect x="1241.4" y="1534.9" width="397.7" height="25.56" fill="#d3d3d3"/><line x1="1238.9" y1="1610.53" x2="1632.6" y2="1610.53" class="dot"/><line x1="1237.9" y1="1466.38" x2="1632.6" y2="1466.38" class="dash"/><line x1="1237.9" y1="1547.51" x2="1632.6" y2="1547.51" class="dash"/><line x1="1237.9" y1="1628.11" x2="1632.6" y2="1628.11" class="dash"/><circle cx="1426.26" cy="1477.38" r="5.65"/><circle cx="1432.25" cy="1482" r="5.65"/><circle cx="1436.75" cy="1485.02" r="5.65"/><circle cx="1441.25" cy="1487.68" r="5.65"/><circle cx="1444.75" cy="1490.34" r="5.65"/><circle cx="1447.74" cy="1492.65" r="5.65"/><circle cx="1455.24" cy="1497.62" r="5.65"/><circle cx="1470.23" cy="1509.34" r="5.65"/><circle cx="1474.72" cy="1511.65" r="5.65"/><circle cx="1488.71" cy="1521.77" r="5.65"/><circle cx="1498.21" cy="1528.16" r="5.65"/><circle cx="1363.31" cy="1521.77" r="5.65"/><circle cx="1372.8" cy="1527.8" r="5.65"/><circle cx="1376.8" cy="1530.64" r="5.65"/><circle cx="1387.29" cy="1537.39" r="5.65"/><circle cx="1389.79" cy="1539.52" r="5.65"/><circle cx="1418.77" cy="1560.82" r="5.65"/><circle cx="1423.76" cy="1564.37" r="5.65"/><circle cx="1436.75" cy="1573.25" r="5.65"/><circle cx="1446.74" cy="1581.06" r="5.65"/><circle cx="1463.73" cy="1592.96" r="5.65"/><circle cx="1300.85" cy="1565.62" r="5.65"/><circle cx="1306.85" cy="1570.41" r="5.65"/><circle cx="1326.33" cy="1583.9" r="5.65"/><circle cx="1331.33" cy="1587.63" r="5.65"/><circle cx="1360.31" cy="1607.87" r="5.65"/><circle cx="1403.78" cy="1639.47" r="5.65"/><circle cx="1426.26" cy="1654.74" r="5.65"/><circle cx="1539.67" cy="1557.81" r="5.65"/><circle cx="1576.15" cy="1495.31" r="5.65"/><circle cx="1590.64" cy="1593.85" r="5.65"/><path d="M1238.9 1433V1699.3H1638.6" class="ax"/><path d="M1238.9 1699.3H1227.9M1238.9 1610.53H1227.9M1238.9 1521.77H1227.9M1238.9 1433H1227.9M1238.9 1699.3V1710.3M1338.83 1699.3V1710.3M1438.75 1699.3V1710.3M1538.68 1699.3V1710.3M1638.6 1699.3V1710.3" class="ax"/><text x="1224.9" y="1706.3" class="tl" text-anchor="end">-50</text><text x="1224.9" y="1617.53" class="tl" text-anchor="end">0</text><text x="1224.9" y="1528.77" class="tl" text-anchor="end">50</text><text x="1224.9" y="1440" class="tl" text-anchor="end">100</text><text x="1238.9" y="1733.6" class="tl" text-anchor="middle">0</text><text x="1338.83" y="1733.6" class="tl" text-anchor="middle">20</text><text x="1438.75" y="1733.6" class="tl" text-anchor="middle">40</text><text x="1538.68" y="1733.6" class="tl" text-anchor="middle">60</text><text x="1638.6" y="1733.6" class="tl" text-anchor="middle">80</text><text x="1438.75" y="1764.8" class="al" text-anchor="middle">Average [%]</text><text transform="translate(1169.6 1566.15) rotate(-90)" class="al" text-anchor="middle">Difference [%]</text><text x="1628.9" y="1458.3" class="ll" text-anchor="end">+ 2*SD</text><text x="1644.8" y="1553.9" class="ll">Bias</text><text x="1628.9" y="1650.1" class="ll" text-anchor="end">- 2*SD</text><text x="1422.8" y="1397.5" class="ti" text-anchor="middle">Whole-grain products</text><text x="1147.7" y="1399" class="le">L</text></g>
</svg>
</body></html>
